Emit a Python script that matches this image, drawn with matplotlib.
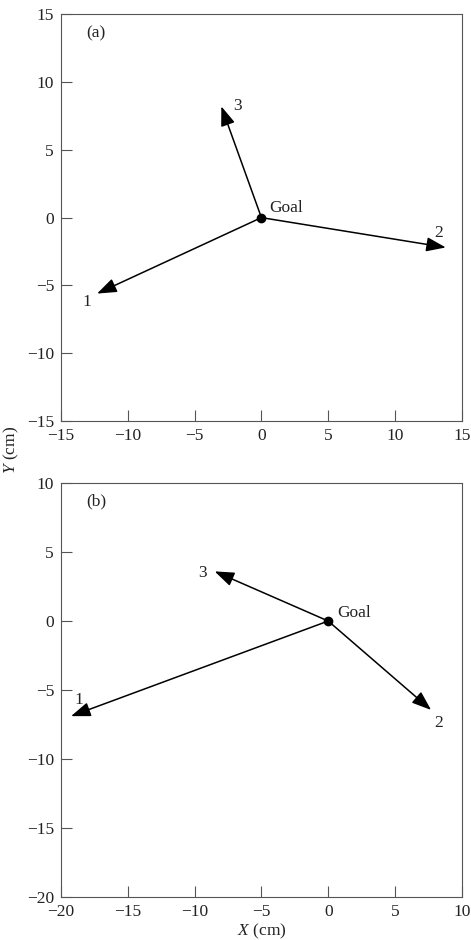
import matplotlib
matplotlib.use("Agg")
import matplotlib.pyplot as plt

plt.rcParams['font.family'] = ['Liberation Serif', 'DejaVu Serif']
plt.rcParams['mathtext.fontset'] = 'custom'
plt.rcParams['mathtext.rm'] = 'Liberation Serif'
plt.rcParams['mathtext.it'] = 'Liberation Serif:italic'
plt.rcParams['font.size'] = 12.5

# panel (a): arrow tips, label positions
a_tips_x = [-12.3, 13.8, -3.0]
a_tips_y = [-5.6, -2.2, 8.2]
a_lab_x = [-13.1, 13.3, -1.8]
a_lab_y = [-6.2, -1.1, 8.2]
a_labels = ["1", "2", "3"]

# panel (b)
b_tips_x = [-19.25, 7.7, -8.5]
b_tips_y = [-6.9, -6.45, 3.6]
b_lab_x = [-18.7, 8.3, -9.4]
b_lab_y = [-5.7, -7.4, 3.45]
b_labels = ["1", "2", "3"]

FS = 12.5
INK = "#222222"

fig = plt.figure(figsize=(4.71, 9.4), dpi=100)
ax1 = fig.add_axes([0.1295, 0.552, 0.851, 0.433])
ax2 = fig.add_axes([0.1295, 0.046, 0.851, 0.440])


def fmt(v):
    return f"\u2212{-v}" if v < 0 else str(v)


def draw(ax, tx, ty, lx, ly, labs, xlim, ylim, tag, tagpos, goalpos):
    for x, y in zip(tx, ty):
        ax.annotate("", xy=(x, y), xytext=(0, 0),
                    arrowprops=dict(arrowstyle="-|>,head_length=0.95,head_width=0.35",
                                    color="black", lw=1.1, shrinkA=0, shrinkB=0))
    for x, y, s in zip(lx, ly, labs):
        ax.text(x, y, s, ha="center", va="center", fontsize=FS, color=INK)
    ax.plot([0], [0], "o", color="black", ms=6, zorder=5)
    ax.text(goalpos[0], goalpos[1], "Goal", ha="left", va="center", fontsize=FS, color=INK)
    ax.text(tagpos[0], tagpos[1], tag, ha="left", va="center", fontsize=FS, color=INK)
    ax.set_xlim(*xlim)
    ax.set_ylim(*ylim)
    xt = list(range(xlim[0], xlim[1] + 1, 5))
    yt = list(range(ylim[0], ylim[1] + 1, 5))
    ax.set_xticks(xt)
    ax.set_yticks(yt)
    ax.set_xticklabels([fmt(v) for v in xt])
    ax.set_yticklabels([fmt(v) for v in yt])
    ax.tick_params(direction="in", length=8, width=0.8, labelsize=FS, pad=5,
                   color="#555555", labelcolor=INK)
    for sp in ax.spines.values():
        sp.set_linewidth(0.8)
        sp.set_color("#555555")


draw(ax1, a_tips_x, a_tips_y, a_lab_x, a_lab_y, a_labels, (-15, 15), (-15, 15),
     "(a)", (-13.1, 13.6), (0.6, 0.7))
draw(ax2, b_tips_x, b_tips_y, b_lab_x, b_lab_y, b_labels, (-20, 10), (-20, 10),
     "(b)", (-18.1, 8.65), (0.7, 0.6))

fig.text(0.025, 0.521, "$Y$ (cm)", rotation=90, ha="center", va="center", fontsize=FS, color=INK)
fig.text(0.556, 0.009, "$X$ (cm)", ha="center", va="center", fontsize=FS, color=INK)

fig.savefig("out.png", dpi=100)
